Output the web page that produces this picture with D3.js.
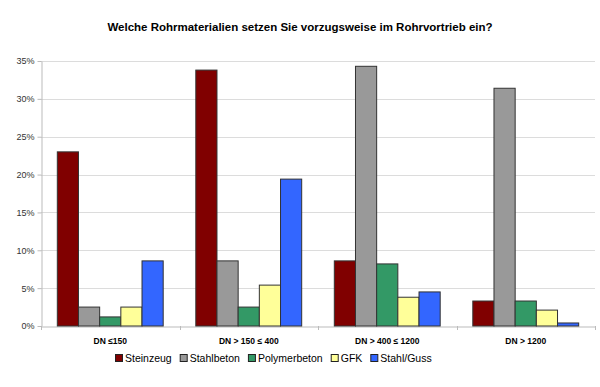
<!DOCTYPE html>
<html><head><meta charset="utf-8">
<script src="https://cdn.jsdelivr.net/npm/d3@7"></script>
<style>body{margin:0;background:#fff}svg{font-family:"Liberation Sans",Arial,sans-serif}</style>
</head><body><svg id="c" width="600" height="387"></svg>
<script>
const categories = ["DN ≤150", "DN > 150 ≤ 400", "DN > 400 ≤ 1200", "DN > 1200"];
const seriesNames = ["Steinzeug", "Stahlbeton", "Polymerbeton", "GFK", "Stahl/Guss"];
const steinzeug = [23.0, 33.8, 8.6, 3.3];
const stahlbeton = [2.5, 8.6, 34.3, 31.4];
const polymerbeton = [1.2, 2.5, 8.2, 3.3];
const gfk = [2.5, 5.4, 3.8, 2.1];
const stahlGuss = [8.6, 19.4, 4.5, 0.4];
const colors = ["#800000", "#999999", "#339966", "#FFFF99", "#3366FF"];
const yTicks = [0, 5, 10, 15, 20, 25, 30, 35];
const title = "Welche Rohrmaterialien setzen Sie vorzugsweise im Rohrvortrieb ein?";

const series = [steinzeug, stahlbeton, polymerbeton, gfk, stahlGuss];
const svg = d3.select("#c");
const L = 41, R = 595, T = 61, B = 326;
const x0 = d3.scaleBand().domain(categories).range([L, R]).paddingInner(0).paddingOuter(0);
const x1 = d3.scaleBand().domain(seriesNames).range([0, x0.bandwidth()]).paddingOuter(0.77).paddingInner(0);
const y = d3.scaleLinear().domain([0, 35]).range([B, T]);

svg.append("text").attr("x", 300).attr("y", 31).attr("text-anchor", "middle")
  .attr("font-size", 11.5).attr("font-weight", "bold").text(title);

// gridlines
svg.append("g").selectAll("line").data(yTicks.filter(d => d > 0)).join("line")
  .attr("x1", L).attr("x2", R).attr("y1", d => Math.round(y(d)) + 0.5).attr("y2", d => Math.round(y(d)) + 0.5)
  .attr("stroke", "#dcdcdc").attr("stroke-width", 1);

// y axis
const ya = svg.append("g").attr("transform", `translate(${L + 0.5},0)`)
  .call(d3.axisLeft(y).tickValues(yTicks).tickFormat(d => d + "%").tickSize(4).tickSizeOuter(0));
ya.select(".domain").attr("stroke", "#bbb");
ya.selectAll(".tick line").attr("stroke", "#bbb");
ya.selectAll(".tick text").attr("font-size", 9).attr("fill", "#333").attr("font-family", "Liberation Sans, Arial, sans-serif");

// x axis
const xa = svg.append("g").attr("transform", `translate(0,${B + 0.5})`)
  .call(d3.axisBottom(x0).tickSize(0).tickSizeOuter(0));
xa.select(".domain").attr("stroke", "#bbb");
xa.selectAll(".tick text").attr("font-size", 8.5).attr("font-weight", "bold").attr("fill", "#000")
  .attr("dy", 0).attr("y", 17).attr("font-family", "Liberation Sans, Arial, sans-serif");
const seps = categories.map(c => x0(c)).concat([x0(categories[categories.length - 1]) + x0.bandwidth()]);
svg.append("g").selectAll("line").data(seps).join("line")
  .attr("x1", d => Math.round(d) + 0.5).attr("x2", d => Math.round(d) + 0.5)
  .attr("y1", B).attr("y2", B + 4).attr("stroke", "#bbb");

// bars
const g = svg.append("g");
categories.forEach((c, i) => {
  seriesNames.forEach((s, j) => {
    const v = series[j][i];
    g.append("rect")
      .attr("x", x0(c) + x1(s))
      .attr("y", y(v))
      .attr("width", x1.bandwidth())
      .attr("height", B - y(v))
      .attr("fill", colors[j])
      .attr("stroke", "#333").attr("stroke-width", 1);
  });
});

// legend
const leg = svg.append("g").attr("transform", "translate(0,362)");
let lx = 0;
seriesNames.forEach((s, j) => {
  leg.append("rect").attr("x", lx + 0.5).attr("y", -7.5).attr("width", 7).attr("height", 7)
    .attr("fill", colors[j]).attr("stroke", "#222");
  const t = leg.append("text").attr("x", lx + 10).attr("y", 0).attr("font-size", 10.5).attr("fill", "#000").text(s);
  lx += 10 + t.node().getComputedTextLength() + 8;
});
const totalW = lx - 8;
leg.attr("transform", `translate(${Math.round(273.5 - totalW / 2)},362)`);
</script></body></html>
